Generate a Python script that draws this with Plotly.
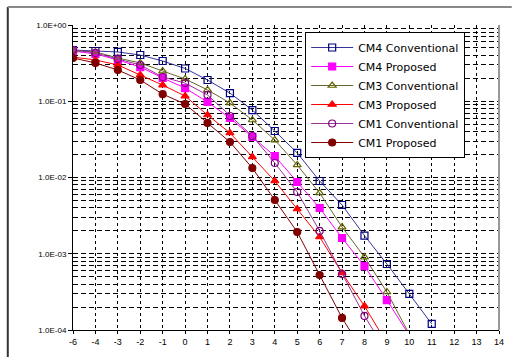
import plotly.graph_objects as go

categories = ["-6", "-4", "-3", "-2", "-1", "0", "1", "2", "3", "4", "5", "6",
              "7", "8", "9", "10", "11", "12", "13", "14"]

cm4_conv = [0.47, 0.456, 0.443, 0.404, 0.337, 0.269, 0.19, 0.128, 0.0767, 0.0407,
            0.021, 0.009, 0.00436, 0.00173, 0.000734, 0.000297, 0.00012]
cm4_prop = [0.456, 0.417, 0.348, 0.281, 0.202, 0.149, 0.0977, 0.0603, 0.034, 0.0191,
            0.00873, 0.00398, 0.00161, 0.00069, 0.000247, 0.000085]
cm3_conv = [0.46, 0.443, 0.369, 0.318, 0.249, 0.196, 0.141, 0.0948, 0.0568, 0.031,
            0.0146, 0.00626, 0.00224, 0.000905, 0.000315, 0.000088]
cm3_prop = [0.38, 0.348, 0.299, 0.221, 0.163, 0.117, 0.066, 0.0384, 0.0186, 0.009,
            0.00386, 0.00166, 0.00056, 0.000206, 0.000067]
cm1_conv = [0.47, 0.43, 0.358, 0.299, 0.208, 0.173, 0.121, 0.0641, 0.035, 0.0155,
            0.00645, 0.00199, 0.000542, 0.000153, 0.000051]
cm1_prop = [0.369, 0.318, 0.257, 0.19, 0.124, 0.092, 0.0519, 0.0292, 0.0133, 0.00507,
            0.00193, 0.000526, 0.000144, 0.000049]

series = [
    ("CM4 Conventional", cm4_conv, "#333399", "square-open", "#000080"),
    ("CM4 Proposed", cm4_prop, "#FF00FF", "square", "#FF00FF"),
    ("CM3 Conventional", cm3_conv, "#666633", "triangle-up-open", "#666600"),
    ("CM3 Proposed", cm3_prop, "#FF0000", "triangle-up", "#FF0000"),
    ("CM1 Conventional", cm1_conv, "#993399", "circle-open", "#800080"),
    ("CM1 Proposed", cm1_prop, "#800000", "circle", "#800000"),
]

y_major = [1e-4, 1e-3, 1e-2, 1e-1, 1e0]
y_labels = ["1.0E-04", "1.0E-03", "1.0E-02", "1.0E-01", "1.0E+00"]
y_minor = [m * 10.0 ** e for e in range(-4, 0) for m in range(2, 10)]

fig = go.Figure()
for name, vals, lc, sym, mc in series:
    fig.add_trace(go.Scatter(
        x=categories[:len(vals)], y=vals, name=name, mode="lines+markers",
        line=dict(color=lc, width=1),
        marker=dict(symbol=sym, size=7, color=mc, line=dict(color=mc, width=1.2)),
    ))

fig.update_layout(
    width=513, height=357,
    margin=dict(l=73, r=9, t=25, b=27),
    paper_bgcolor="white", plot_bgcolor="white",
    font=dict(family="Liberation Sans, Arial", size=9, color="black"),
    legend=dict(x=0.545, xanchor="left", y=0.977, yanchor="top",
                bgcolor="white", bordercolor="black", borderwidth=1,
                font=dict(family="DejaVu Sans", size=11, color="black"),
                itemwidth=42, tracegroupgap=0),
    xaxis=dict(type="category", categoryorder="array", categoryarray=categories,
               range=[0, 19], showgrid=True, gridcolor="black", gridwidth=1,
               griddash="3px,3px", showline=True, linecolor="black", linewidth=1,
               ticks="outside", ticklen=3, tickcolor="black", zeroline=False,
               tickfont=dict(size=9)),
    yaxis=dict(type="log", range=[-4, 0], tickvals=y_major, ticktext=y_labels,
               showgrid=True, gridcolor="black", gridwidth=1, griddash="5px,3px",
               showline=True, linecolor="black", linewidth=1,
               ticks="outside", ticklen=4, tickcolor="black", zeroline=False,
               tickfont=dict(size=8),
               minor=dict(tickvals=y_minor, showgrid=True, gridcolor="black",
                          gridwidth=1, griddash="5px,3px", ticks="")),
    shapes=[
        dict(type="line", xref="paper", yref="paper", x0=1, x1=1, y0=0, y1=1,
             line=dict(color="#999999", width=2)),
        dict(type="line", xref="paper", yref="paper", x0=-0.1531, x1=-0.1531,
             y0=-0.1, y1=1.059, line=dict(color="#333333", width=2)),
        dict(type="line", xref="paper", yref="paper", x0=-0.1531, x1=1.03,
             y0=1.059, y1=1.059, line=dict(color="#888888", width=2)),
    ],
)

fig.write_html("out.html")
